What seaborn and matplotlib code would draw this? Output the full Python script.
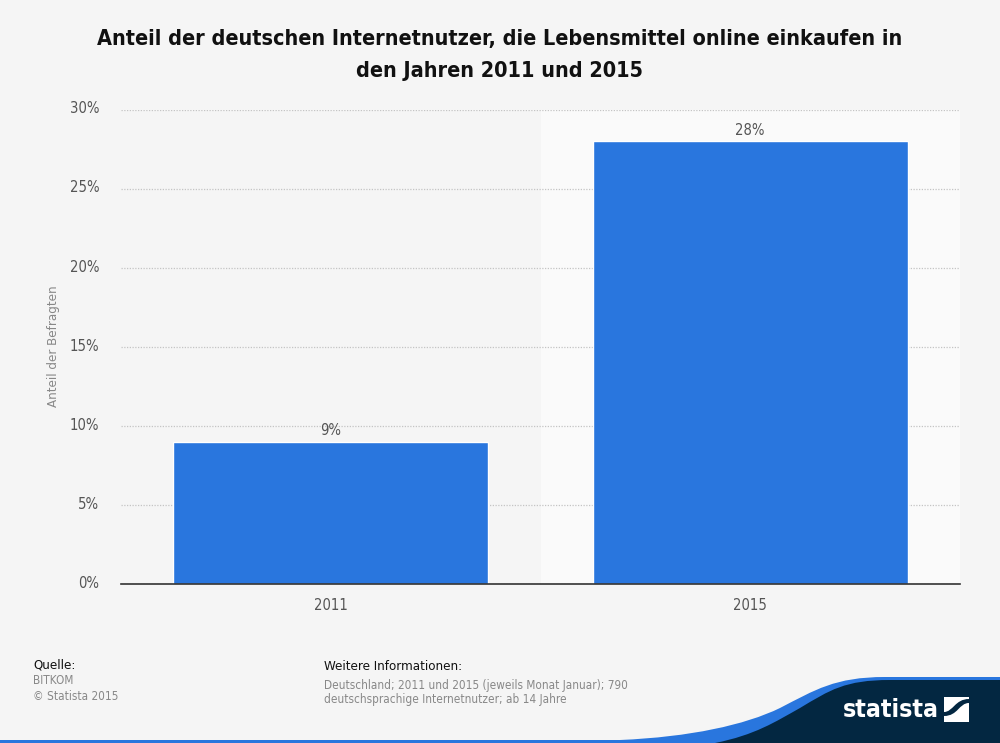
import pandas as pd
import seaborn as sns
import matplotlib.pyplot as plt
from matplotlib.path import Path
from matplotlib.patches import PathPatch, Rectangle
from matplotlib.transforms import ScaledTranslation

years = ['2011', '2015']
shares = [9, 28]
y_ticks = [0, 5, 10, 15, 20, 25, 30]
y_labels = ['0%', '5%', '10%', '15%', '20%', '25%', '30%']

title = 'Anteil der deutschen Internetnutzer, die Lebensmittel online einkaufen in\nden Jahren 2011 und 2015'
y_title = 'Anteil der Befragten'

BG = '#f5f5f5'
BLUE = '#2976de'
NAVY = '#032741'
W, H = 1000, 743

sns.set_theme(style='white')
plt.rcParams['font.family'] = ['DejaVu Sans']

df = pd.DataFrame({'year': years, 'share': shares})

fig = plt.figure(figsize=(10, 7.43), dpi=100, facecolor=BG)

# page layer in pixel coordinates, for the footer artwork
page = fig.add_axes([0, 0, 1, 1], zorder=0)
page.set_xlim(0, W)
page.set_ylim(H, 0)
page.axis('off')

# plot area 121..960 x 109.5..584 px
ax = fig.add_axes([121 / W, 1 - 584 / H, 839 / W, 474.5 / H], zorder=1)
ax.set_facecolor('none')
ax.axvspan(0.5, 1.5, color='#fafafa', lw=0, zorder=0)
sns.barplot(data=df, x='year', y='share', color=BLUE, width=0.75, saturation=1, ax=ax, zorder=3)
ax.set_xlim(-0.5, 1.5)
ax.set_ylim(0, 30)
ax.set_yticks(y_ticks)
ax.set_yticklabels(y_labels)
ax.yaxis.grid(True, color='#c4c4c4', lw=0.9, ls=(0, (1, 1.2)), zorder=1)
ax.set_axisbelow(True)
ax.xaxis.grid(False)
for s in ['top', 'left', 'right']:
    ax.spines[s].set_visible(False)
ax.spines['bottom'].set_color('#333333')
ax.spines['bottom'].set_linewidth(1.2)
ax.spines['bottom'].set_zorder(5)
ax.tick_params(axis='x', length=0, pad=10, labelsize=10.6, labelcolor='#555555')
ax.tick_params(axis='y', length=0, pad=15.5, labelsize=10.6, labelcolor='#555555')
ax.set_xlabel('')
ax.set_ylabel('')
for lab in ax.get_xticklabels():
    lab.set_stretch('condensed')
for lab in ax.get_yticklabels():
    lab.set_stretch('condensed')
    # labels sit slightly above their grid line
    lab.set_transform(lab.get_transform() + ScaledTranslation(0, 1.5 / 72, fig.dpi_scale_trans))

for i, v in enumerate(shares):
    ax.annotate(f'{v}%', (i, v), xytext=(0, 2.5), textcoords='offset points', ha='center', va='bottom',
                fontsize=10.6, color='#555555', stretch='condensed')

fig.text(53.5 / W, 1 - 346 / H, y_title, rotation=90, ha='center', va='center', fontsize=9.5,
         color='#888888', stretch='condensed')
fig.text(500 / W, 1 - 55 / H, title, ha='center', va='center', fontsize=15.5, fontweight='bold',
         color='#111111', linespacing=1.75, stretch='condensed')

# footer texts
page.text(33, 664.5, 'Quelle:', fontsize=9.5, color='#111111', va='center', stretch='condensed')
page.text(33, 681, 'BITKOM', fontsize=8.5, color='#888888', va='center', stretch='condensed')
page.text(33, 697, '© Statista 2015', fontsize=8.5, color='#888888', va='center', stretch='condensed')
page.text(324, 666.5, 'Weitere Informationen:', fontsize=9.5, color='#111111', va='center', stretch='condensed')
page.text(324, 685, 'Deutschland; 2011 und 2015 (jeweils Monat Januar); 790', fontsize=8.5, color='#888888',
          va='center', stretch='condensed')
page.text(324, 700, 'deutschsprachige Internetnutzer; ab 14 Jahre', fontsize=8.5, color='#888888',
          va='center', stretch='condensed')

# footer swoosh
C3 = Path.CURVE4
blue_verts = [(0, 740), (620, 740), (690, 737), (745, 725), (780, 708), (815, 690), (835, 677), (885, 677),
              (1000, 677), (1000, 743), (0, 743), (0, 740)]
blue_codes = [Path.MOVETO, Path.LINETO, C3, C3, C3, C3, C3, C3, Path.LINETO, Path.LINETO, Path.LINETO, Path.CLOSEPOLY]
page.add_patch(PathPatch(Path(blue_verts, blue_codes), fc=BLUE, ec='none'))
navy_verts = [(715, 743), (755, 735), (775, 722), (800, 708), (830, 690), (845, 680), (890, 680),
              (1000, 680), (1000, 743), (715, 743)]
navy_codes = [Path.MOVETO, C3, C3, C3, C3, C3, C3, Path.LINETO, Path.LINETO, Path.CLOSEPOLY]
page.add_patch(PathPatch(Path(navy_verts, navy_codes), fc=NAVY, ec='none'))

# logo
page.text(843, 710, 'statista', fontsize=17.8, fontweight='bold', color='white', va='center', ha='left',
          stretch='condensed')
page.add_patch(Rectangle((944, 697), 25, 25, fc='white', ec='none'))
mark_verts = [(944, 712), (953, 712), (955, 699), (969, 699), (969, 703), (959, 703), (958, 716), (944, 716), (944, 712)]
mark_codes = [Path.MOVETO, C3, C3, C3, Path.LINETO, C3, C3, C3, Path.CLOSEPOLY]
page.add_patch(PathPatch(Path(mark_verts, mark_codes), fc=NAVY, ec='none'))

fig.savefig('out.png', dpi=100, facecolor=BG)
